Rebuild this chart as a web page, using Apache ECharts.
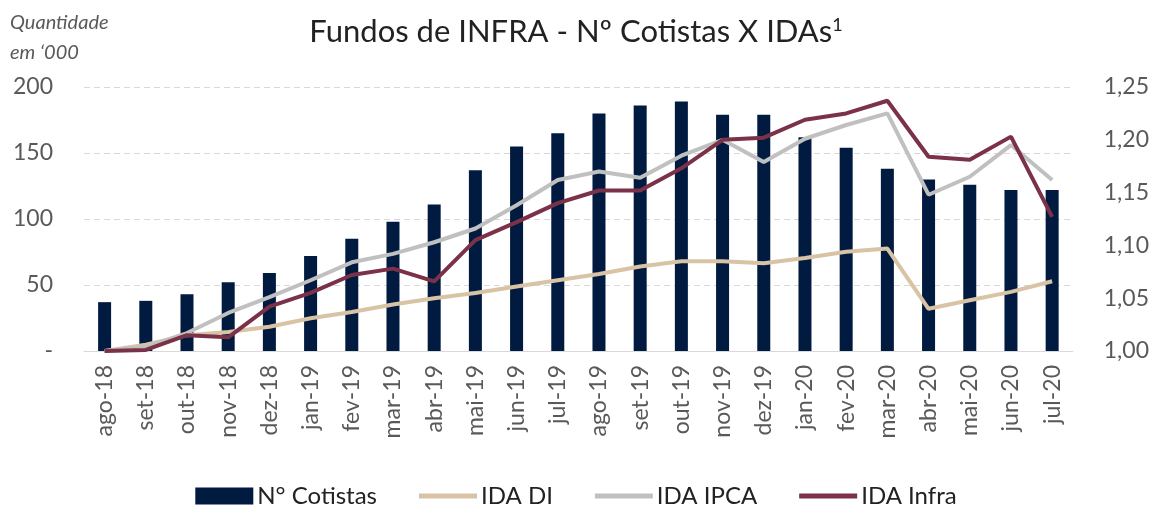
<!DOCTYPE html>
<html><head><meta charset="utf-8">
<script src="https://cdn.jsdelivr.net/npm/echarts@6/dist/echarts.min.js"></script>
<style>html,body{margin:0;padding:0;background:#fff}#c{width:1152px;height:505px}</style>
</head><body><div id="c"></div>
<script>
const categories = ['ago-18','set-18','out-18','nov-18','dez-18','jan-19','fev-19','mar-19','abr-19','mai-19','jun-19','jul-19','ago-19','set-19','out-19','nov-19','dez-19','jan-20','fev-20','mar-20','abr-20','mai-20','jun-20','jul-20'];
const cotistas = [37,38,43,52,59,72,85,98,111,137,155,165,180,186,189,179,179,162,154,138,130,126,122,122];
const idaDI   = [1.000,1.006,1.015,1.018,1.023,1.031,1.037,1.044,1.050,1.055,1.061,1.067,1.073,1.080,1.085,1.085,1.083,1.088,1.094,1.097,1.040,1.048,1.056,1.066];
const idaIPCA = [1.000,1.004,1.017,1.036,1.051,1.067,1.084,1.092,1.103,1.116,1.138,1.162,1.170,1.164,1.185,1.200,1.179,1.201,1.214,1.225,1.148,1.165,1.195,1.162];
const idaInfra= [1.000,1.001,1.015,1.013,1.042,1.055,1.072,1.078,1.066,1.105,1.122,1.140,1.152,1.152,1.173,1.200,1.202,1.219,1.225,1.237,1.184,1.181,1.203,1.127];
const leftTicks = {min:0, max:200, interval:50};
const rightTicks = {min:1.00, max:1.25, interval:0.05};

const FONT = 'Lato';
const GREY = '#595959';
const chart = echarts.init(document.getElementById('c'));
const lineIcon = 'path://M0,0h60v5h-60z';
chart.setOption({
  animation:false,
  textStyle:{fontFamily:FONT},
  title:{
    text:'Fundos de INFRA - Nº Cotistas X IDAs{sup|1}',
    left:'center', top:11,
    textStyle:{fontFamily:FONT,fontSize:31,fontWeight:'normal',color:'#222',
      rich:{sup:{fontFamily:FONT,fontSize:18,color:'#222',verticalAlign:'top',padding:[0,0,14,0]}}}
  },
  graphic:[{type:'text',left:10,top:8,style:{text:'Quantidade\nem ‘000',fontFamily:FONT,fontStyle:'italic',fontSize:20,lineHeight:30,fill:GREY}}],
  legend:{
    top:479, left:'center', itemGap:42, itemWidth:58, itemHeight:17,
    textStyle:{fontFamily:FONT,fontSize:24,color:'#222',padding:[0,0,0,-1]},
    data:[
      {name:'N° Cotistas',icon:'rect'},
      {name:'IDA DI',icon:lineIcon},
      {name:'IDA IPCA',icon:lineIcon},
      {name:'IDA Infra',icon:lineIcon}
    ]
  },
  grid:{left:84,right:79,top:87,bottom:154,containLabel:false},
  xAxis:{type:'category',data:categories,boundaryGap:true,
    axisLine:{lineStyle:{color:'#d9d9d9',width:1}},axisTick:{show:false},
    axisLabel:{rotate:90,fontFamily:FONT,fontSize:23,color:GREY,margin:14,interval:0}},
  yAxis:[
    {type:'value',min:leftTicks.min,max:leftTicks.max,interval:leftTicks.interval,
      axisLine:{show:false},axisTick:{show:false},
      splitLine:{lineStyle:{color:'#d9d9d9',type:[6,4]}},
      axisLabel:{fontFamily:FONT,fontSize:23,color:GREY,margin:31,formatter:v=>v===0?'-':String(v)}},
    {type:'value',min:rightTicks.min,max:rightTicks.max,interval:rightTicks.interval,
      axisLine:{show:false},axisTick:{show:false},splitLine:{show:false},
      axisLabel:{fontFamily:FONT,fontSize:23,color:GREY,margin:31,formatter:v=>v.toFixed(2).replace('.',',')}}
  ],
  series:[
    {name:'N° Cotistas',type:'bar',data:cotistas,barWidth:13,itemStyle:{color:'#001a40'},yAxisIndex:0},
    {name:'IDA DI',type:'line',data:idaDI,yAxisIndex:1,showSymbol:false,symbol:'none',lineStyle:{color:'#d9c3a5',width:4},itemStyle:{color:'#d9c3a5'}},
    {name:'IDA IPCA',type:'line',data:idaIPCA,yAxisIndex:1,showSymbol:false,symbol:'none',lineStyle:{color:'#c0c0c0',width:4},itemStyle:{color:'#c0c0c0'}},
    {name:'IDA Infra',type:'line',data:idaInfra,yAxisIndex:1,showSymbol:false,symbol:'none',lineStyle:{color:'#7b3148',width:4},itemStyle:{color:'#7b3148'}}
  ]
});
</script></body></html>
